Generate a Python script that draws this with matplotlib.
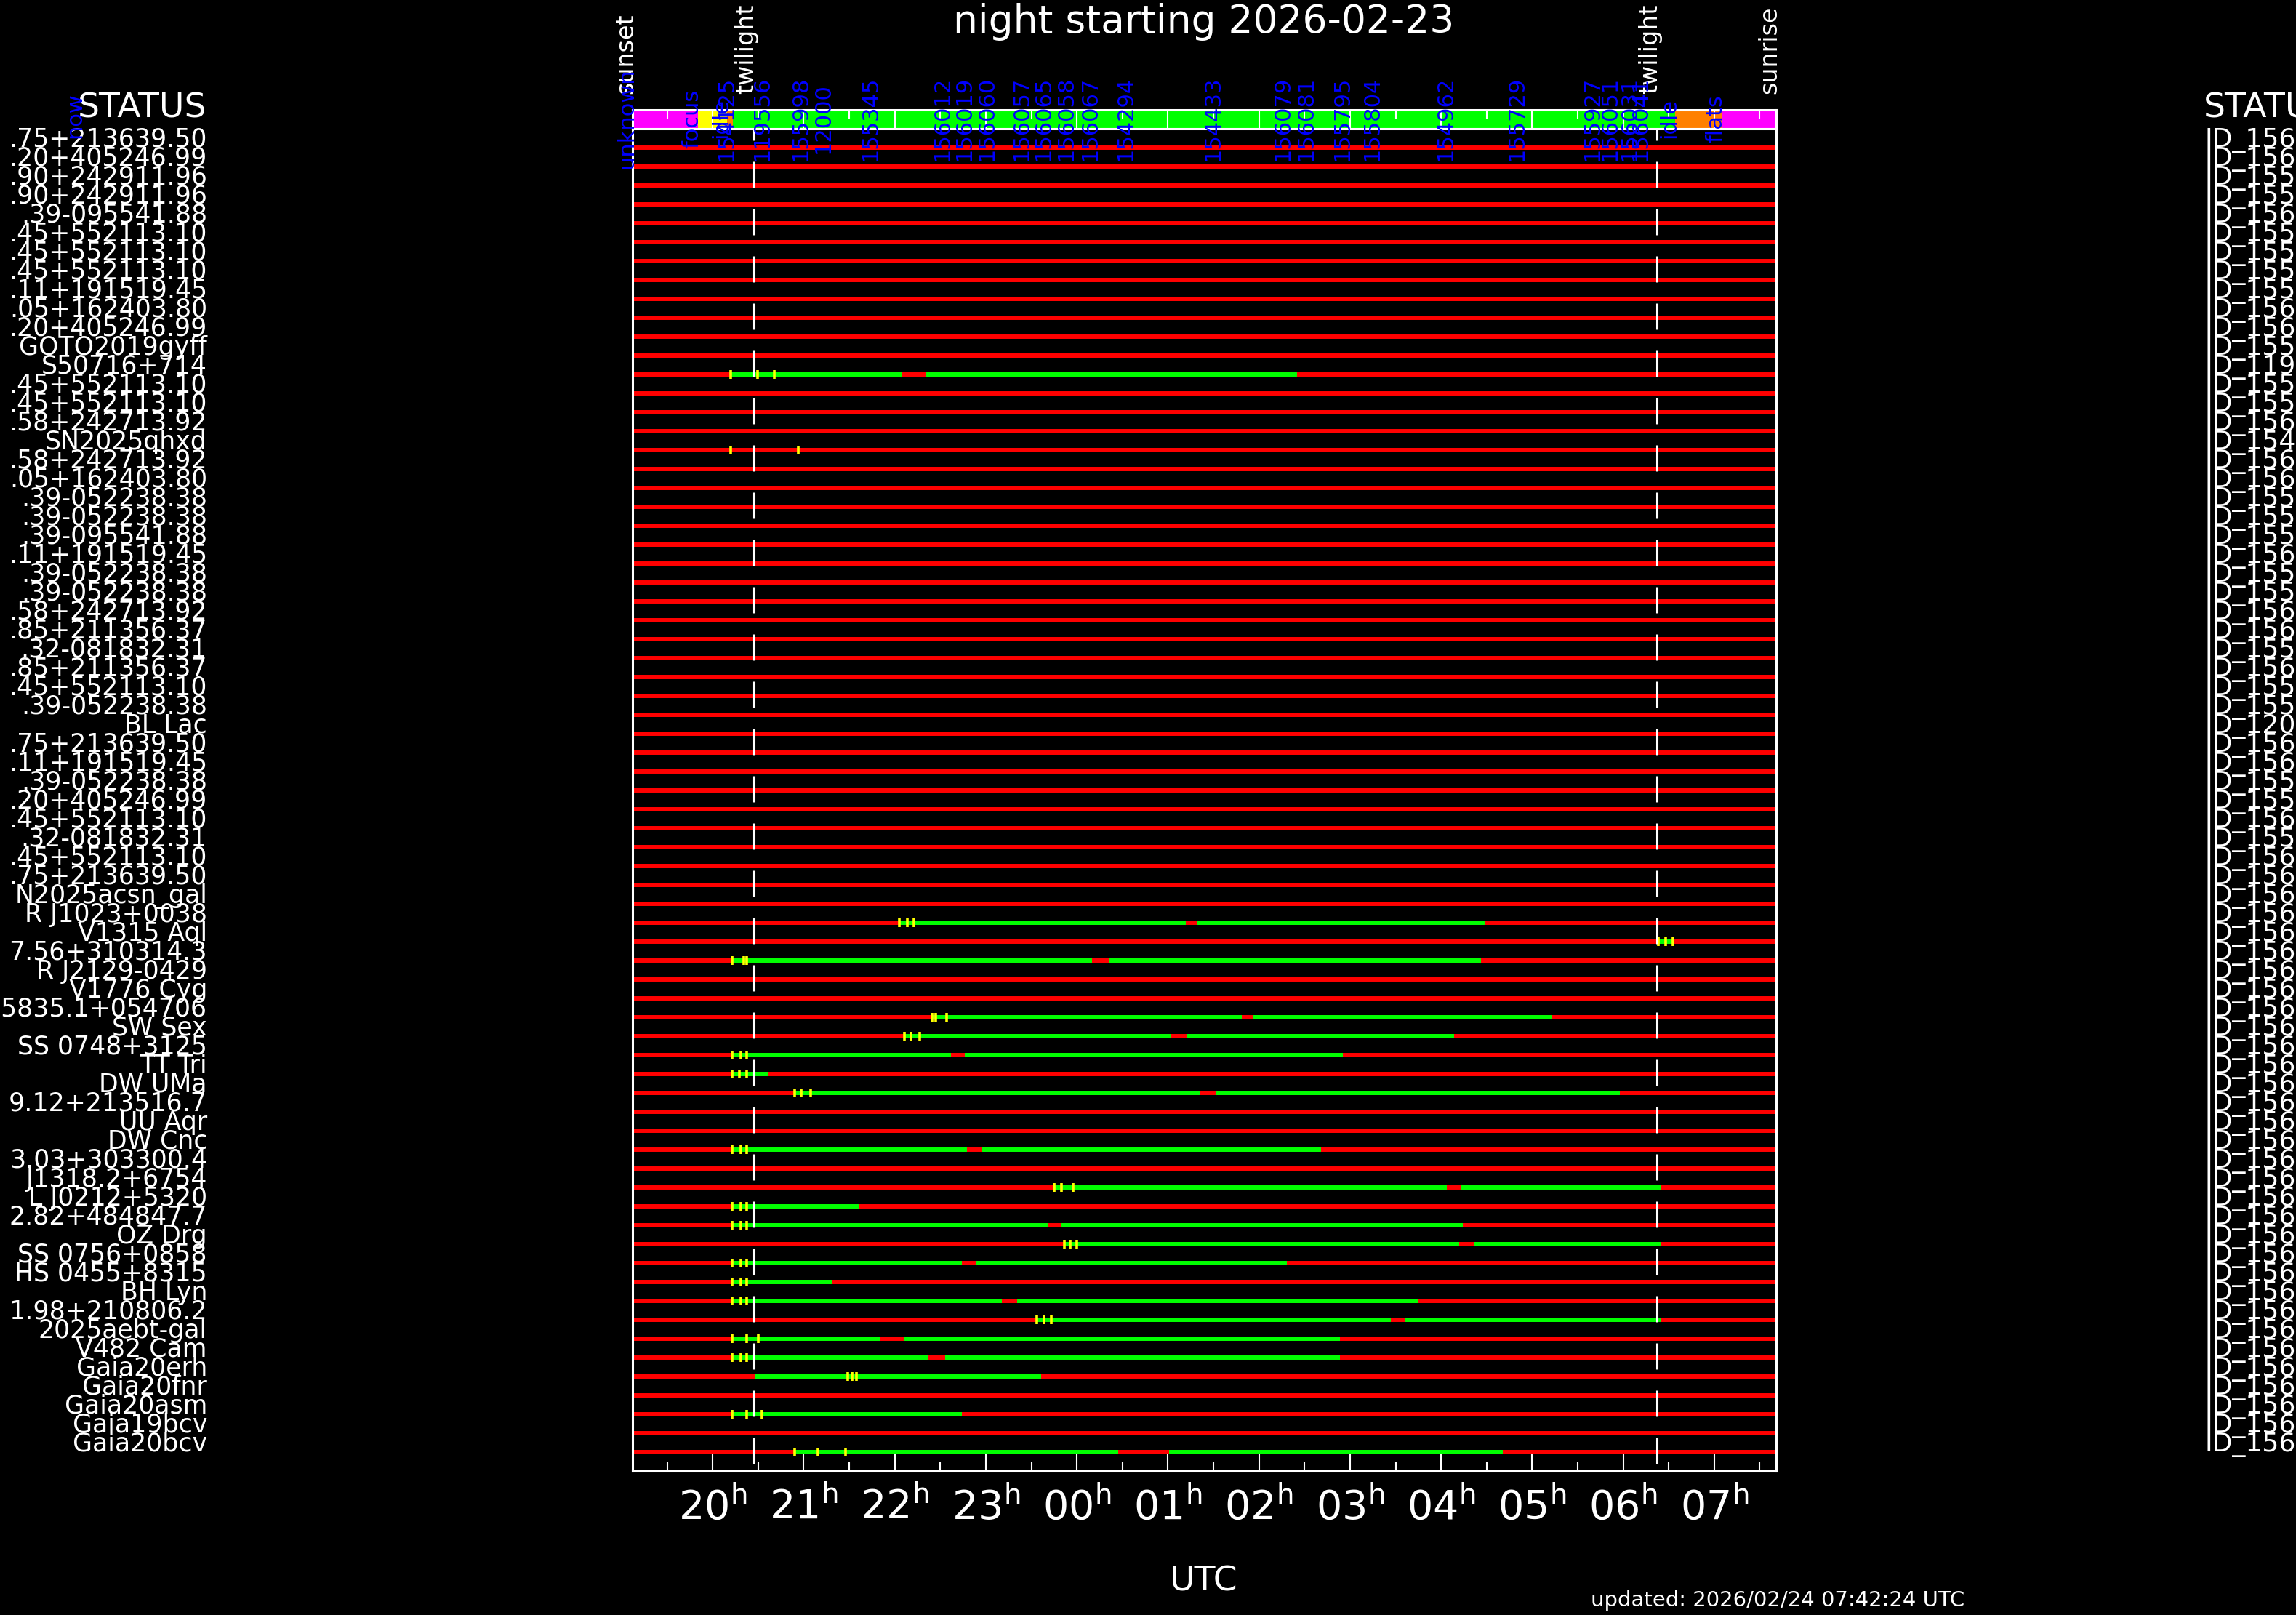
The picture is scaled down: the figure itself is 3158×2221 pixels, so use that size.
import matplotlib
matplotlib.use("Agg")
import matplotlib.pyplot as plt
import matplotlib.transforms as mtransforms

# figure size in pixels (dpi 100)
W, H = 3158, 2221

# ---- data --------------------------------------------------------------
targets = [
    ".75+213639.50", ".20+405246.99", ".90+242911.96", ".90+242911.96",
    ".39-095541.88", ".45+552113.10", ".45+552113.10", ".45+552113.10",
    ".11+191519.45", ".05+162403.80", ".20+405246.99", "GOTO2019gyff",
    "S50716+714", ".45+552113.10", ".45+552113.10", ".58+242713.92",
    "SN2025qhxd", ".58+242713.92", ".05+162403.80", ".39-052238.38",
    ".39-052238.38", ".39-095541.88", ".11+191519.45", ".39-052238.38",
    ".39-052238.38", ".58+242713.92", ".85+211356.37", ".32-081832.31",
    ".85+211356.37", ".45+552113.10", ".39-052238.38", "BL Lac",
    ".75+213639.50", ".11+191519.45", ".39-052238.38", ".20+405246.99",
    ".45+552113.10", ".32-081832.31", ".45+552113.10", ".75+213639.50",
    "N2025acsn_gal", "R J1023+0038", "V1315 Aql", "7.56+310314.3",
    "R J2129-0429", "V1776 Cyg", "65835.1+054706", "SW Sex",
    "SS 0748+3125", "TT Tri", "DW UMa", "9.12+213516.7",
    "UU Aqr", "DW Cnc", "3.03+303300.4", "J1318.2+6754",
    "L J0212+5320", "2.82+484847.7", "OZ Drg", "SS 0756+0858",
    "HS 0455+8315", "BH Lyn", "1.98+210806.2", "2025aebt-gal",
    "V482 Cam", "Gaia20erh", "Gaia20fnr", "Gaia20asm",
    "Gaia19bcv", "Gaia20bcv",
]

target_ids = [
    "ID_156012", "ID_156019", "ID_155998", "ID_155345", "ID_156060",
    "ID_155795", "ID_155804", "ID_155927", "ID_155729", "ID_156057",
    "ID_156065", "ID_155531", "ID_119556", "ID_155512", "ID_155520",
    "ID_156058", "ID_154962", "ID_156067", "ID_156079", "ID_155640",
    "ID_155641", "ID_155642", "ID_156081", "ID_155650", "ID_155651",
    "ID_156031", "ID_156041", "ID_155660", "ID_156051", "ID_155670",
    "ID_155671", "ID_12000", "ID_156061", "ID_156062", "ID_155680",
    "ID_155681", "ID_156063", "ID_155690", "ID_156064", "ID_156066",
    "ID_156068", "ID_156069", "ID_156070", "ID_156071", "ID_156072",
    "ID_156073", "ID_156074", "ID_156075", "ID_156076", "ID_156077",
    "ID_156078", "ID_156080", "ID_156082", "ID_156083", "ID_156084",
    "ID_156085", "ID_156086", "ID_156087", "ID_156088", "ID_156089",
    "ID_156090", "ID_156091", "ID_156092", "ID_156093", "ID_156094",
    "ID_156095", "ID_156096", "ID_156097", "ID_156098", "ID_156099",
]

# observable windows (UTC hours, >24 = after midnight), per row index
green_spans = {
    12: [(20.20, 22.08), (22.34, 26.42)],
    41: [(22.05, 25.20), (25.32, 28.48)],
    42: [(30.39, 30.55)],
    43: [(20.21, 24.17), (24.35, 28.44)],
    46: [(22.41, 25.81), (25.94, 29.22)],
    47: [(22.11, 25.04), (25.21, 28.14)],
    48: [(20.21, 22.62), (22.77, 26.92)],
    49: [(20.21, 20.61)],
    50: [(20.90, 25.36), (25.52, 29.96)],
    53: [(20.21, 22.79), (22.95, 26.68)],
    55: [(23.75, 28.06), (28.22, 30.42)],
    56: [(20.21, 21.60)],
    57: [(20.21, 23.69), (23.83, 28.24)],
    58: [(23.86, 28.20), (28.36, 30.42)],
    59: [(20.21, 22.74), (22.90, 26.31)],
    60: [(20.21, 21.31)],
    61: [(20.21, 23.18), (23.34, 27.74)],
    62: [(23.56, 27.45), (27.61, 30.42)],
    63: [(20.21, 21.84), (22.10, 26.89)],
    64: [(20.21, 22.37), (22.55, 26.89)],
    65: [(20.46, 23.61)],
    67: [(20.21, 22.74)],
    69: [(20.90, 24.45), (25.01, 28.68)],
}

# exposure marks
tick_marks = {
    12: [20.20, 20.49, 20.68],
    16: [20.20, 20.94],
    41: [22.05, 22.14, 22.21],
    42: [30.39, 30.47, 30.55],
    43: [20.21, 20.34, 20.37],
    46: [22.41, 22.45, 22.57],
    47: [22.11, 22.18, 22.27],
    48: [20.21, 20.31, 20.37],
    49: [20.21, 20.29, 20.37],
    50: [20.90, 20.97, 21.08],
    53: [20.21, 20.31, 20.37],
    55: [23.75, 23.83, 23.96],
    56: [20.21, 20.31, 20.37],
    57: [20.21, 20.31, 20.37],
    58: [23.86, 23.93, 24.00],
    59: [20.21, 20.31, 20.37],
    60: [20.21, 20.31, 20.37],
    61: [20.21, 20.31, 20.37],
    62: [23.56, 23.64, 23.72],
    63: [20.21, 20.37, 20.50],
    64: [20.21, 20.31, 20.37],
    65: [21.48, 21.53, 21.58],
    67: [20.21, 20.37, 20.54],
    69: [20.90, 21.16, 21.46],
}

# status bar blocks
status_start = [19.12, 19.84, 20.16, 20.22, 20.61, 21.03, 21.28, 21.80,
                22.59, 22.83, 23.08, 23.46, 23.70, 23.95, 24.21, 24.60,
                25.56, 26.33, 26.58, 26.98, 27.31, 28.12, 28.90, 29.73,
                29.92, 30.14, 30.26, 30.57, 31.08]
status_name = ["unknown", "focus", "idle", "154125", "119556", "155998",
               "12000", "155345", "156012", "156019", "156060", "156057",
               "156065", "156058", "156067", "154294", "154433", "156079",
               "156081", "155795", "155804", "154962", "155729", "155927",
               "156051", "156031", "156041", "idle", "flats"]
status_kind = ["unknown", "focus", "idle"] + ["obs"] * 24 + ["idle", "flats"]

sunset, sunrise = 19.12, 31.68
twilight_eve, twilight_morn = 20.45, 30.37
hour_ticks = list(range(20, 32))
hour_labels = ["20", "21", "22", "23", "00", "01", "02", "03", "04", "05", "06", "07"]

kind_color = {"unknown": "#ff00ff", "focus": "#ffff00", "idle": "#ff8000",
              "obs": "#00ff00", "flats": "#ff00ff"}

# ---- figure ------------------------------------------------------------
plt.rcParams["font.family"] = ["DejaVu Sans"]
plt.rcParams["lines.scale_dashes"] = False
fig = plt.figure(figsize=(W / 100, H / 100), dpi=100, facecolor="black")


def fx(px):
    return px / W


def fy(py):
    return 1 - py / H


# main panel
ax = fig.add_axes([fx(870), fy(2023), fx(2443) - fx(870), fy(177) - fy(2023)])
ax.set_facecolor("black")
ax.set_zorder(2)
ax.set_xlim(sunset, sunrise)
ax.set_ylim(70, -1)
rows = list(range(len(targets)))

ax.hlines(rows, sunset, sunrise, colors="#ff0000", lw=4.3)
for r, spans in green_spans.items():
    for a, b in spans:
        ax.hlines(r, a, b, colors="#00ff00", lw=4.3)
for r, ts in tick_marks.items():
    ax.plot(ts, [r] * len(ts), ls="none", marker="|", ms=8.5, mew=2.6,
            color="#ffff00", zorder=4)

for t in (twilight_eve, twilight_morn):
    ax.plot([t, t], [-1.77, 70], color="white", lw=2.2,
            dashes=(25.9, 20.9), zorder=5)

for s in ax.spines.values():
    s.set_color("white")
    s.set_linewidth(2.2)
ax.set_xticks(hour_ticks)
ax.set_xticks([h + 0.5 for h in range(19, 32)], minor=True)
ax.set_xticklabels([r"$\mathregular{%s^{h}}$" % l for l in hour_labels],
                   fontsize=40, color="white")
ax.tick_params(axis="x", which="major", direction="in", length=19.5,
               width=1.5, color="white", pad=16)
ax.tick_params(axis="x", which="minor", direction="in", length=9.5,
               width=1.5, color="white")
ax.set_yticks([])

# row labels on both sides
trans = mtransforms.blended_transform_factory(fig.transFigure, ax.transData)
for r, (name, oid) in enumerate(zip(targets, target_ids)):
    fig.text(fx(285), r - 0.05, name, transform=trans, ha="right",
             va="baseline", color="white", fontsize=25)
    fig.text(fx(3033), r - 0.05, oid, transform=trans, ha="left",
             va="baseline", color="white", fontsize=26)

# status bar
axb = fig.add_axes([fx(870), fy(177), fx(2443) - fx(870), fy(151) - fy(177)])
axb.set_facecolor("black")
axb.set_zorder(1)
axb.set_xlim(sunset, sunrise)
axb.set_ylim(0, 1)
ends = status_start[1:] + [sunrise]
for a, b, k in zip(status_start, ends, status_kind):
    axb.axvspan(a, b, color=kind_color[k], lw=0)
for s in axb.spines.values():
    s.set_color("white")
    s.set_linewidth(2.2)
axb.set_yticks([])
axb.set_xticks(hour_ticks)
axb.set_xticks([h + 0.5 for h in range(19, 32)], minor=True)
axb.tick_params(axis="x", which="both", top=True, bottom=False,
                labelbottom=False, direction="in", color="white", width=1.5)
axb.tick_params(axis="x", which="major", length=19)
axb.tick_params(axis="x", which="minor", length=9)

# block labels drawn at figure level so they sit on top of both panels
tb = mtransforms.blended_transform_factory(axb.transData, fig.transFigure)
for a, name in zip(status_start, status_name):
    fig.text(a, fy(163), name, transform=tb, rotation=90,
             rotation_mode="anchor", ha="center", va="baseline",
             color="#0000ff", fontsize=22, zorder=10)

for t, name in [(sunset, "sunset"), (twilight_eve, "twilight"),
                (twilight_morn, "twilight"), (sunrise, "sunrise")]:
    fig.text(t, fy(129), name, transform=tb, rotation=90,
             rotation_mode="anchor", ha="left", va="baseline",
             color="white", fontsize=24, zorder=9)

# titles and annotations
fig.text(fx(1656), fy(30), "night starting 2026-02-23", ha="center",
         va="center", color="white", fontsize=38.5)
fig.text(fx(284), fy(149), "STATUS", ha="right", va="center",
         color="white", fontsize=34)
fig.text(fx(3031), fy(149), "STATUS", ha="left", va="center",
         color="white", fontsize=34)
fig.text(fx(103), fy(159), "now", rotation=90, ha="center", va="center",
         color="#0000ff", fontsize=22, zorder=10)
fig.text(fx(1656), fy(2175), "UTC", ha="center", va="center",
         color="white", fontsize=34)
fig.text(fx(2445), fy(2201), "updated: 2026/02/24 07:42:24 UTC",
         ha="center", va="center", color="white", fontsize=21)

fig.savefig("out.png", dpi=100, facecolor="black")
